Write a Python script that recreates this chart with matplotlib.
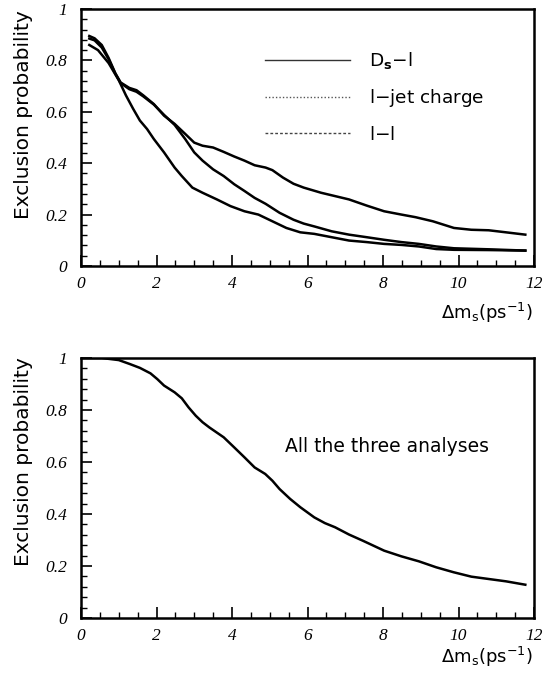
import matplotlib
matplotlib.use("Agg")
import matplotlib.pyplot as plt
from matplotlib.ticker import MultipleLocator
from matplotlib.lines import Line2D

# ---- data ----
x_ds = [0.22, 0.45, 0.73, 1.0, 1.19, 1.38, 1.56, 1.75, 1.93, 2.2, 2.48, 2.67, 2.95, 3.22, 3.6, 3.96,
        4.33, 4.7, 5.07, 5.44, 5.81, 6.18, 6.64, 7.1, 7.57, 8.03, 8.49, 8.95, 9.41, 9.88, 10.8, 11.77]
y_ds = [0.86, 0.84, 0.79, 0.723, 0.664, 0.612, 0.566, 0.533, 0.494, 0.442, 0.383, 0.35, 0.305, 0.285, 0.259, 0.233,
        0.213, 0.2, 0.174, 0.148, 0.131, 0.125, 0.112, 0.099, 0.093, 0.086, 0.082, 0.076, 0.066, 0.063, 0.062, 0.06]

x_jet = [0.22, 0.36, 0.55, 0.73, 0.91, 1.05, 1.28, 1.47, 1.65, 1.93, 2.2, 2.48, 2.76, 3.0, 3.22, 3.5, 3.78,
         4.06, 4.33, 4.6, 4.89, 5.07, 5.35, 5.63, 5.9, 6.36, 6.73, 7.1, 7.57, 8.03, 8.49, 8.86, 9.32, 9.88,
         10.34, 10.8, 11.26, 11.77]
y_jet = [0.895, 0.886, 0.86, 0.81, 0.75, 0.714, 0.693, 0.684, 0.664, 0.63, 0.585, 0.553, 0.514, 0.48, 0.468, 0.461, 0.444,
         0.426, 0.41, 0.392, 0.383, 0.373, 0.344, 0.32, 0.305, 0.285, 0.272, 0.259, 0.235, 0.213, 0.2, 0.19, 0.174, 0.148,
         0.141, 0.139, 0.131, 0.122]

x_ll = [0.22, 0.36, 0.55, 0.73, 0.91, 1.05, 1.28, 1.47, 1.65, 1.93, 2.2, 2.48, 2.76, 3.0, 3.22, 3.5, 3.78,
        4.06, 4.33, 4.6, 4.89, 5.26, 5.63, 5.9, 6.18, 6.64, 7.1, 7.57, 8.03, 8.49, 8.95, 9.41, 9.88, 10.8, 11.77]
y_ll = [0.885, 0.878, 0.85, 0.805, 0.748, 0.712, 0.688, 0.678, 0.66, 0.628, 0.588, 0.549, 0.494, 0.442, 0.41, 0.376, 0.35,
        0.318, 0.292, 0.265, 0.242, 0.207, 0.18, 0.165, 0.154, 0.135, 0.122, 0.112, 0.102, 0.093, 0.086, 0.076, 0.069, 0.065, 0.06]

x_all = [0.0, 0.55, 1.0, 1.29, 1.56, 1.84, 2.02, 2.2, 2.48, 2.67, 2.85, 3.04, 3.22, 3.4, 3.59, 3.78, 4.06, 4.33,
         4.6, 4.88, 5.07, 5.26, 5.54, 5.81, 6.18, 6.46, 6.73, 7.1, 7.47, 7.75, 8.03, 8.49, 8.95, 9.41, 9.87,
         10.34, 10.8, 11.26, 11.77]
y_all = [1.0, 1.0, 0.992, 0.977, 0.962, 0.941, 0.919, 0.894, 0.868, 0.845, 0.81, 0.778, 0.753, 0.733, 0.714, 0.695, 0.656, 0.618,
         0.579, 0.554, 0.528, 0.496, 0.458, 0.426, 0.387, 0.365, 0.349, 0.321, 0.297, 0.278, 0.259, 0.237, 0.218, 0.195, 0.176,
         0.159, 0.15, 0.141, 0.128]

legend_labels = [r"D$_\mathbf{s}$$-$l", "l$-$jet charge", "l$-$l"]
panel_text = "All the three analyses"
ylabel = "Exclusion probability"
xticks = [0, 2, 4, 6, 8, 10, 12]
yticks = [0, 0.2, 0.4, 0.6, 0.8, 1]
ytick_labels = ["0", "0.2", "0.4", "0.6", "0.8", "1"]

W, H = 547, 678
fig = plt.figure(figsize=(W / 100, H / 100), dpi=100)

def box(l, t, r, b):
    return [l / W, 1 - b / H, (r - l) / W, (b - t) / H]

ax1 = fig.add_axes(box(81, 9, 534, 266))
ax2 = fig.add_axes(box(81, 358, 534, 618))

tick_font = dict(family="Liberation Serif", style="italic", size=12.5)
label_font = dict(family="DejaVu Sans", size=14.5)

def style(ax, ylab_y, xlab_y):
    ax.set_xlim(0, 12)
    ax.set_ylim(0, 1)
    for s in ax.spines.values():
        s.set_linewidth(1.8)
    ax.xaxis.set_minor_locator(MultipleLocator(0.5))
    ax.yaxis.set_minor_locator(MultipleLocator(0.04))
    ax.set_xticks(xticks)
    ax.set_yticks(yticks)
    ax.set_xticklabels([str(v) for v in xticks], **tick_font)
    ax.set_yticklabels(ytick_labels, **tick_font)
    ax.tick_params(axis="y", which="major", pad=10)
    ax.tick_params(axis="x", which="major", pad=7)
    ax.tick_params(which="major", direction="in", length=8, width=1.2, top=False, right=False)
    ax.tick_params(which="minor", direction="in", length=4, width=1.0, top=False, right=False)
    ax.set_ylabel(ylabel, **label_font)
    ax.yaxis.set_label_coords(-0.105, ylab_y)
    ax.text(0.998, xlab_y, r"$\Delta\mathrm{m_s(ps^{-1})}$", transform=ax.transAxes,
            ha="right", va="center", size=13, family="DejaVu Sans")

style(ax1, 0.59, -0.183)
style(ax2, 0.60, -0.15)

ax1.plot(x_ds, y_ds, color="black", lw=1.8)
ax1.plot(x_jet, y_jet, color="black", lw=1.8)
ax1.plot(x_ll, y_ll, color="black", lw=1.8)

handles = [Line2D([], [], color="#333333", lw=1.0, ls="-"),
           Line2D([], [], color="#555555", lw=1.0, ls=(0, (1, 1.5))),
           Line2D([], [], color="#444444", lw=1.0, ls=(0, (2, 1.5)))]
leg = ax1.legend(handles, legend_labels, loc="upper left", bbox_to_anchor=(0.37, 0.905),
                 frameon=False, handlelength=4.6, handletextpad=1.0, labelspacing=0.88,
                 prop=dict(family="DejaVu Sans", size=13.3))

ax2.plot(x_all, y_all, color="black", lw=1.8)
ax2.text(5.4, 0.66, panel_text, ha="left", va="center", family="DejaVu Sans", size=13.5)

fig.savefig("out.png", dpi=100)
